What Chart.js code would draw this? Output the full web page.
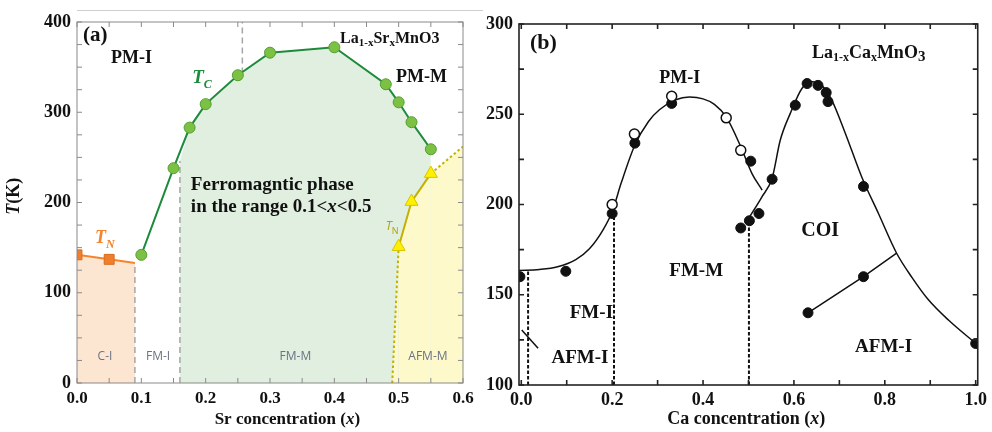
<!DOCTYPE html>
<html>
<head>
<meta charset="utf-8">
<title>Manganite phase diagrams</title>
<script src="https://cdn.jsdelivr.net/npm/chart.js@4.4.1/dist/chart.umd.min.js"></script>
<style>
  body { margin: 0; background: #fff; }
  #page { position: relative; width: 992px; height: 432px; overflow: hidden; }
  #chartA { position: absolute; left: 0; top: 0; }
  #chartB { position: absolute; left: 482px; top: 0; }
  #rule { position: absolute; left: 77px; top: 10px; width: 406px; height: 1px; background: #cfcfcf; }
</style>
</head>
<body>
<div id="page">
  <canvas id="chartA" width="482" height="432"></canvas>
  <canvas id="chartB" width="510" height="432"></canvas>
  <div id="rule"></div>
</div>
<script>
// ---- (a) La1-xSrxMnO3 ----
const srXTicks = [0, 0.1, 0.2, 0.3, 0.4, 0.5, 0.6];
const srYTicks = [0, 100, 200, 300, 400];
const srTcX = [0.1, 0.15, 0.175, 0.2, 0.25, 0.3, 0.4, 0.48, 0.5, 0.52, 0.55];
const srTcT = [142, 238, 283, 309, 341, 366, 372, 331, 311, 289, 259];
const srTnX = [0, 0.05, 0.09];
const srTnT = [142, 137, 133];
const srAfmX = [0.49, 0.5, 0.52, 0.55, 0.6];
const srAfmT = [0, 151, 201, 232, 262];
const srFmFillX = [0.16, 0.175, 0.2, 0.25, 0.3, 0.4, 0.48, 0.5, 0.52, 0.55, 0.55];
const srFmFillT = [246, 283, 309, 341, 366, 372, 331, 311, 289, 259, 0];
const srBoundX = [0.09, 0.16, 0.257];   // grey dashed phase boundaries
const srBoundLo = [0, 0, 343];
const srBoundHi = [133, 246, 400];

// ---- (b) La1-xCaxMnO3 ----
const caXTicks = [0, 0.2, 0.4, 0.6, 0.8, 1.0];
const caYTicks = [100, 150, 200, 250, 300];
const caFilledX = [-0.003, 0.098, 0.2, 0.25, 0.331, 0.483, 0.502, 0.505, 0.523, 0.552, 0.603, 0.629, 0.631, 0.653, 0.671, 0.675, 0.753, 0.753, 1.0];
const caFilledT = [160, 163, 195, 234, 256, 187, 191, 224, 195, 214, 255, 267, 140, 266, 262, 257, 210, 160, 123];
const caOpenX = [0.2, 0.249, 0.331, 0.451, 0.483];
const caOpenT = [200, 239, 260, 248, 230];
const caCurve1X = [-0.005, 0.04, 0.08, 0.12, 0.15, 0.18, 0.2, 0.22, 0.25, 0.28, 0.304, 0.34, 0.37, 0.4, 0.425, 0.451, 0.483, 0.508, 0.53];
const caCurve1T = [163.5, 164, 165.5, 169.5, 175.5, 186, 196, 212, 233, 246, 252.5, 258, 259.5, 258.5, 255.5, 248.5, 232, 217, 208];
const caCurve2X = [0.502, 0.529, 0.552, 0.57, 0.592, 0.618, 0.64, 0.661, 0.683, 0.713, 0.749, 0.786, 0.826, 0.86, 0.895, 0.94, 1.005];
const caCurve2T = [193, 204, 214.6, 235.7, 250.5, 264.4, 268, 266, 258, 239.5, 215.4, 195, 173, 159.5, 147.5, 136, 122];
const caAfmX = [0.631, 0.753, 0.826];
const caAfmT = [140, 160, 173];
const caSlashX = [0.001, 0.037];
const caSlashT = [130.5, 120.3];
const caBoundX = [0.015, 0.204, 0.501];
const caBoundHi = [163, 196, 191];

const SERIF = "'Liberation Serif', 'Times New Roman', serif";
const SANS = "'Open Sans', 'DejaVu Sans', sans-serif";

const pts = (xs, ys) => xs.map((x, i) => ({ x: x, y: ys[i] }));

function lineSet(data, extra) {
  return Object.assign({ data: data, pointRadius: 0, borderWidth: 2, fill: false, tension: 0, clip: 0 }, extra);
}

function axis(min, max, ticks, size, pad, fmt, fix) {
  return {
    type: 'linear', min: min, max: max,
    grid: { display: false, drawTicks: false },
    border: { display: false },
    afterBuildTicks: s => { s.ticks = ticks.map(v => ({ value: v })); },
    afterFit: fix,
    ticks: { font: { family: SERIF, size: size, weight: 'bold' }, color: '#111', padding: pad, autoSkip: false, maxRotation: 0, callback: fmt }
  };
}

function drawParts(ctx, x, y, parts, align, color) {
  let w = 0;
  parts.forEach(p => { ctx.font = p[1]; w += ctx.measureText(p[0]).width; });
  let cx = align === 'center' ? x - w / 2 : x;
  ctx.fillStyle = color;
  ctx.textAlign = 'left';
  ctx.textBaseline = 'alphabetic';
  parts.forEach(p => { ctx.font = p[1]; ctx.fillText(p[0], cx, y + (p[2] || 0)); cx += ctx.measureText(p[0]).width; });
}

// frame, inward ticks, axis titles and in-plot labels
const decor = {
  id: 'decor',
  afterDraw(chart, args, o) {
    const ctx = chart.ctx, a = chart.chartArea;
    const xs = chart.scales.x, ys = chart.scales.y;
    ctx.save();
    ctx.strokeStyle = o.axisColor;
    ctx.lineWidth = o.axisWidth;
    ctx.strokeRect(a.left, a.top, a.right - a.left, a.bottom - a.top);
    ctx.beginPath();
    let n = Math.round((o.xTick[1] - o.xTick[0]) / o.xTick[2]);
    for (let i = 0; i <= n; i++) {
      const px = xs.getPixelForValue(o.xTick[0] + i * o.xTick[2]);
      ctx.moveTo(px, a.bottom); ctx.lineTo(px, a.bottom - o.tickLen);
      ctx.moveTo(px, a.top); ctx.lineTo(px, a.top + o.tickLen);
    }
    n = Math.round((o.yTick[1] - o.yTick[0]) / o.yTick[2]);
    for (let i = 0; i <= n; i++) {
      const py = ys.getPixelForValue(o.yTick[0] + i * o.yTick[2]);
      ctx.moveTo(a.left, py); ctx.lineTo(a.left + o.tickLen, py);
      ctx.moveTo(a.right, py); ctx.lineTo(a.right - o.tickLen, py);
    }
    ctx.stroke();

    o.texts.forEach(t => drawParts(ctx, xs.getPixelForValue(t.x), ys.getPixelForValue(t.y), t.parts, t.align, t.color || '#111'));

    drawParts(ctx, xs.getPixelForValue(o.xTitle.x), a.bottom + o.xTitle.dy, o.xTitle.parts, 'center', '#111');
    if (o.yTitle) {
      ctx.save();
      ctx.translate(a.left - o.yTitle.dx, ys.getPixelForValue(o.yTitle.y));
      ctx.rotate(-Math.PI / 2);
      drawParts(ctx, 0, 0, o.yTitle.parts, 'center', '#111');
      ctx.restore();
    }
    ctx.restore();
  }
};

const b = sz => 'bold ' + sz + 'px ' + SERIF;
const bi = sz => 'bold italic ' + sz + 'px ' + SERIF;

// ---------- chart (a) ----------
const tcGreen = '#1d8a3c';
new Chart(document.getElementById('chartA'), {
  type: 'line',
  data: {
    datasets: [
      lineSet(pts(srFmFillX, srFmFillT), { borderWidth: 0, borderColor: 'rgba(0,0,0,0)', backgroundColor: '#e0efdf', fill: 'origin', order: 10 }),
      lineSet(pts(srAfmX, srAfmT), {
        borderColor: '#c4b000', backgroundColor: '#fef9cb', fill: 'origin', order: 9,
        pointStyle: 'triangle', pointRadius: srAfmX.map((x, i) => (i === 0 || i === srAfmX.length - 1) ? 0 : 7.5),
        pointBackgroundColor: '#fff000', pointBorderColor: '#d8c400', pointBorderWidth: 1,
        segment: { borderDash: c => (c.p0DataIndex === 0 || c.p0DataIndex === 3) ? [2.5, 2.5] : undefined }
      }),
      lineSet(pts(srTnX, srTnT), {
        borderColor: '#f5842c', backgroundColor: '#fde6d1', fill: 'origin', order: 8,
        pointStyle: 'rect', pointRadius: [7, 7, 0], pointBackgroundColor: '#f07f2d', pointBorderColor: '#d96a1e', pointBorderWidth: 1
      }),
      ...srBoundX.map((x, i) => lineSet(pts([x, x], [srBoundLo[i], srBoundHi[i]]), { borderColor: '#a6a6a6', borderWidth: 1.5, borderDash: [6, 4], order: 7 })),
      lineSet(pts(srTcX, srTcT), {
        borderColor: tcGreen, order: 6,
        pointStyle: 'circle', pointRadius: 5.5, pointBackgroundColor: '#7cc144', pointBorderColor: '#52a030', pointBorderWidth: 1
      })
    ]
  },
  options: {
    responsive: false, animation: false, devicePixelRatio: 1, events: [],
    layout: { padding: { left: 0, right: 19, top: 22, bottom: 0 } },
    scales: {
      x: axis(0, 0.6, srXTicks, 17, 5, v => v.toFixed(1), s => { s.height = 49; }),
      y: axis(0, 400, srYTicks, 18, 6, v => String(v), s => { s.width = 77; })
    },
    plugins: {
      legend: { display: false }, tooltip: { enabled: false },
      decor: {
        axisColor: '#8a8a8a', axisWidth: 1, tickLen: 5,
        xTick: [0, 0.6, 0.05], yTick: [0, 400, 25],
        xTitle: { x: 0.327, dy: 41, parts: [['Sr concentration (', b(17)], ['x', bi(17)], [')', b(17)]] },
        yTitle: { y: 207, dx: 58, parts: [['T', bi(18)], ['(K)', b(18)]] },
        texts: [
          { x: 0.0093, y: 379, parts: [['(a)', b(21)]] },
          { x: 0.053, y: 355, parts: [['PM-I', b(18)]] },
          { x: 0.409, y: 377, parts: [['La', b(16)], ['1-x', b(11), 3], ['Sr', b(16)], ['x', b(11), 3], ['MnO3', b(16)]] },
          { x: 0.496, y: 334, parts: [['PM-M', b(18)]] },
          { x: 0.179, y: 332, color: tcGreen, parts: [['T', bi(19)], ['C', bi(12), 5]] },
          { x: 0.177, y: 214, parts: [['Ferromagntic phase', b(19)]] },
          { x: 0.177, y: 189.5, parts: [['in the range 0.1<', b(19)], ['x', bi(19)], ['<0.5', b(19)]] },
          { x: 0.028, y: 155, color: '#f5842c', parts: [['T', bi(18)], ['N', bi(12), 5]] },
          { x: 0.48, y: 169.5, color: '#b3a200', parts: [['T', 'italic 12px ' + SANS], ['N', '9px ' + SANS, 4]] },
          { x: 0.0435, y: 25.5, align: 'center', color: '#6b7282', parts: [['C-I', '12px ' + SANS]] },
          { x: 0.126, y: 25.5, align: 'center', color: '#6b7282', parts: [['FM-I', '12px ' + SANS]] },
          { x: 0.3395, y: 25.5, align: 'center', color: '#6b7282', parts: [['FM-M', '12px ' + SANS]] },
          { x: 0.5455, y: 25.5, align: 'center', color: '#6b7282', parts: [['AFM-M', '12px ' + SANS]] }
        ]
      }
    }
  },
  plugins: [decor]
});

// ---------- chart (b) ----------
const ink = '#111';
new Chart(document.getElementById('chartB'), {
  type: 'line',
  data: {
    datasets: [
      ...caBoundX.map((x, i) => lineSet(pts([x, x], [100, caBoundHi[i]]), { borderColor: ink, borderWidth: 2, borderDash: [3.5, 2] })),
      lineSet(pts(caCurve1X, caCurve1T), { borderColor: ink, borderWidth: 1.5, cubicInterpolationMode: 'monotone' }),
      lineSet(pts(caCurve2X, caCurve2T), { borderColor: ink, borderWidth: 1.5, cubicInterpolationMode: 'monotone' }),
      lineSet(pts(caAfmX, caAfmT), { borderColor: ink, borderWidth: 1.5 }),
      lineSet(pts(caSlashX, caSlashT), { borderColor: ink, borderWidth: 1.5 }),
      { data: pts(caFilledX, caFilledT), showLine: false, clip: 0, pointRadius: 5, pointBackgroundColor: ink, pointBorderColor: ink, pointBorderWidth: 1, order: -1 },
      { data: pts(caOpenX, caOpenT), showLine: false, clip: 0, pointRadius: 5, pointBackgroundColor: '#fff', pointBorderColor: ink, pointBorderWidth: 1.5, order: -2 }
    ]
  },
  options: {
    responsive: false, animation: false, devicePixelRatio: 1, events: [],
    layout: { padding: { left: 0, right: 12, top: 24, bottom: 0 } },
    scales: {
      x: axis(-0.005, 1.0045, caXTicks, 18, 5, v => v.toFixed(1), s => { s.height = 47; }),
      y: axis(100, 300, caYTicks, 18, 6, v => String(v), s => { s.width = 37; })
    },
    plugins: {
      legend: { display: false }, tooltip: { enabled: false },
      decor: {
        axisColor: '#222', axisWidth: 1.6, tickLen: 5,
        xTick: [0, 1.0, 0.1], yTick: [100, 300, 25],
        xTitle: { x: 0.495, dy: 39, parts: [['Ca concentration (', b(18)], ['x', bi(18)], [')', b(18)]] },
        texts: [
          { x: 0.019, y: 286, parts: [['(b)', b(22)]] },
          { x: 0.6395, y: 281.2, parts: [['La', b(18)], ['1-x', b(12), 3], ['Ca', b(18)], ['x', b(12), 3], ['MnO', b(18)], ['3', b(15), 3]] },
          { x: 0.3038, y: 267.3, parts: [['PM-I', b(18)]] },
          { x: 0.616, y: 182.5, parts: [['COI', b(20)]] },
          { x: 0.3257, y: 160.4, parts: [['FM-M', b(19)]] },
          { x: 0.1067, y: 137.3, parts: [['FM-I', b(19)]] },
          { x: 0.0666, y: 112, parts: [['AFM-I', b(19)]] },
          { x: 0.7346, y: 118.5, parts: [['AFM-I', b(19)]] }
        ]
      }
    }
  },
  plugins: [decor]
});
</script>
</body>
</html>
